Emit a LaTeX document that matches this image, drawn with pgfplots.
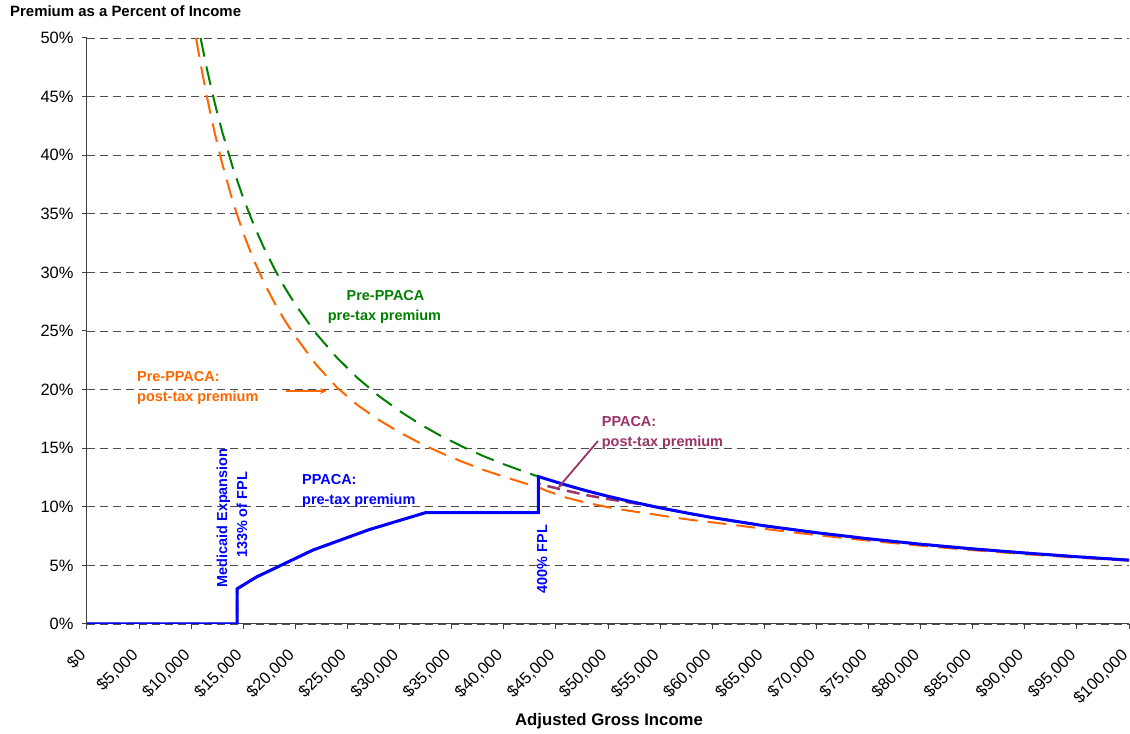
\documentclass[border=0pt]{standalone}
\usepackage{fontspec}
\setmainfont{Liberation Sans}
\usepackage{pgfplots}
\pgfplotsset{compat=1.18}
\usetikzlibrary{arrows.meta}
\definecolor{ppblue}{RGB}{0,0,255}
\definecolor{ppgreen}{RGB}{0,128,0}
\definecolor{pporange}{RGB}{255,102,0}
\definecolor{pppurple}{RGB}{153,51,102}
\begin{document}
\begin{tikzpicture}[x=1bp,y=1bp]
\useasboundingbox (-87,-110) rectangle (1043,624);
\begin{axis}[
  at={(0,0)}, anchor=south west,
  scale only axis, width=1042bp, height=586bp,
  xmin=0, xmax=100000, ymin=0, ymax=50,
  scaled x ticks=false, scaled y ticks=false,
  axis x line=bottom, axis y line=left,
  axis line style={-, black!75, line width=1bp},
  xtick={0,5000,10000,15000,20000,25000,30000,35000,40000,45000,50000,55000,60000,65000,70000,75000,80000,85000,90000,95000,100000},
  xticklabels={{\$0},{\$5,000},{\$10,000},{\$15,000},{\$20,000},{\$25,000},{\$30,000},{\$35,000},{\$40,000},{\$45,000},{\$50,000},{\$55,000},{\$60,000},{\$65,000},{\$70,000},{\$75,000},{\$80,000},{\$85,000},{\$90,000},{\$95,000},{\$100,000}},
  ytick={0,5,10,15,20,25,30,35,40,45,50},
  yticklabels={0\%,5\%,10\%,15\%,20\%,25\%,30\%,35\%,40\%,45\%,50\%},
  /pgf/number format/assume math mode=true,
  tick label style={font=\fontsize{16.5}{19}\selectfont},
  xticklabel style={rotate=45, anchor=north east, inner sep=1bp, xshift=-18.4bp, yshift=-5.7bp},
  yticklabel style={xshift=-5bp},
  ymajorgrids,
  grid style={black!70, dash pattern=on 8bp off 5bp, line width=0.9bp},
  tick style={black!75, line width=1bp},
  major tick length=5bp, tick align=outside,
]
% Pre-PPACA pre-tax premium (green)
\addplot[ppgreen, line width=2bp, dash pattern=on 19bp off 10bp] coordinates {
(10900,50.0) (11500,47.39) (12000,45.42) (12500,43.60) (13000,41.92)
(14000,38.93) (15000,36.33) (16000,34.06) (17000,32.06) (18000,30.28)
(19000,28.68) (20000,27.25) (22000,24.77) (24000,22.71) (26000,20.96)
(28000,19.46) (30000,18.17) (32000,17.03) (34000,16.03) (36000,15.14)
(38000,14.34) (40000,13.63) (42000,12.98) (43320,12.58)
};
% Pre-PPACA post-tax premium (orange)
\addplot[pporange, line width=2bp, dash pattern=on 19bp off 10bp] coordinates {
(10460,50.0) (11000,47.32) (11500,45.02) (12000,42.92) (12500,40.98)
(13000,39.20) (14000,36.01) (15000,33.35) (16000,31.06) (17000,29.11)
(18000,27.40) (19000,25.87) (20000,24.53) (22000,22.12) (24000,20.17)
(26000,18.65) (28000,17.42) (30000,16.35) (32000,15.41) (34000,14.59)
(36000,13.85) (38000,13.16) (40000,12.57) (42000,12.01) (43320,11.67)
(44000,11.40) (46000,10.78) (48000,10.33) (50000,9.97) (52000,9.66)
(54000,9.41) (56000,9.13) (58000,8.88) (60000,8.67) (62000,8.46)
(65000,8.12) (68000,7.79) (70000,7.59) (75000,7.11) (80000,6.68)
(85000,6.30) (90000,5.96) (95000,5.66) (100000,5.40)
};
% PPACA post-tax premium (purple)
\addplot[pppurple, line width=2.5bp, dash pattern=on 13bp off 7bp] coordinates {
(0,0) (14404,0) (14404,3.0) (16245,4.0) (21660,6.3) (27075,8.05)
(32490,9.5) (43320,9.5) (43320,11.95) (44000,11.81) (46000,11.38)
(48000,10.98) (50000,10.66) (52000,10.38) (54000,10.09) (58000,9.40)
(60000,9.08) (65000,8.38) (70000,7.79) (75000,7.27) (80000,6.81)
(85000,6.41) (90000,6.06) (95000,5.74) (100000,5.45)
};
% PPACA pre-tax premium (blue)
\addplot[ppblue, line width=3bp] coordinates {
(0,0) (14404,0) (14404,3.0) (16245,4.0) (21660,6.3) (27075,8.05)
(32490,9.5) (43320,9.5) (43320,12.58) (44000,12.39) (46000,11.85)
(48000,11.35) (50000,10.90) (52000,10.48) (55000,9.91) (58000,9.40)
(60000,9.08) (65000,8.38) (70000,7.79) (75000,7.27) (80000,6.81)
(85000,6.41) (90000,6.06) (95000,5.74) (100000,5.45)
};
\end{axis}
% Title and axis label
\node[anchor=base west, inner sep=0, font=\bfseries\fontsize{15}{17}\selectfont] at (-77,607) {Premium as a Percent of Income};
\node[anchor=base, inner sep=0, font=\bfseries\fontsize{16.8}{19}\selectfont] at (522,-102) {Adjusted Gross Income};
% Annotations
\begin{scope}[every node/.style={inner sep=0, font=\bfseries\fontsize{14.5}{16}\selectfont}]
\node[anchor=base, text=ppgreen] at (298.5,323) {Pre-PPACA};
\node[anchor=base, text=ppgreen] at (297.5,303) {pre-tax premium};
\node[anchor=base west, text=pporange] at (50,242) {Pre-PPACA:};
\node[anchor=base west, text=pporange] at (50,222) {post-tax premium};
\node[anchor=base west, text=pppurple] at (514.7,197) {PPACA:};
\node[anchor=base west, text=pppurple] at (514.7,177) {post-tax premium};
\node[anchor=base west, text=ppblue] at (215,139) {PPACA:};
\node[anchor=base west, text=ppblue] at (215,119) {pre-tax premium};
\node[anchor=base, rotate=90, text=ppblue] at (140,106) {Medicaid Expansion};
\node[anchor=base, rotate=90, text=ppblue] at (160,109) {133\% of FPL};
\node[anchor=base, rotate=90, text=ppblue] at (460,65) {400\% FPL};
\end{scope}
\draw[pporange, line width=2bp, -{Stealth[length=7bp,width=6bp]}] (199,233) -- (240,233);
\draw[pppurple, line width=1.8bp, -{Stealth[length=6bp,width=5bp]}] (511,183) -- (471,136);
\end{tikzpicture}
\end{document}
